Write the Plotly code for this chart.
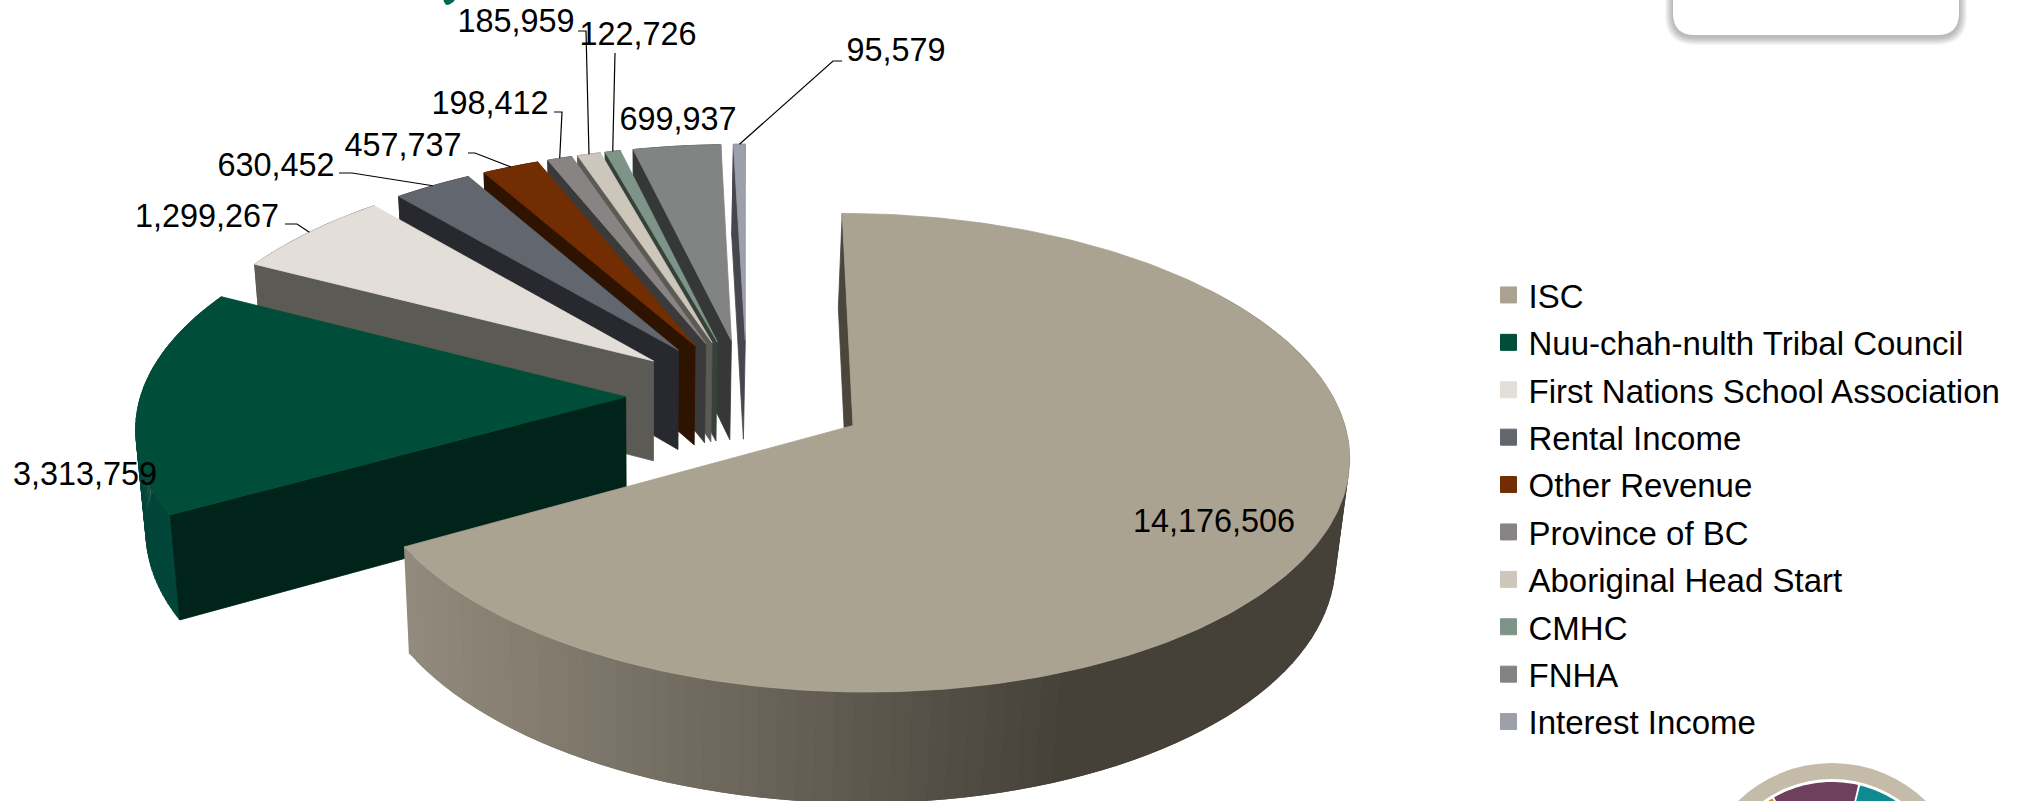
import math
import plotly.graph_objects as go

# Revenue by source, in table order
categories = ["ISC", "Nuu-chah-nulth Tribal Council", "First Nations School Association",
              "Rental Income", "Other Revenue", "Province of BC", "Aboriginal Head Start",
              "CMHC", "FNHA", "Interest Income"]
values = [14176506, 3313759, 1299267, 630452, 457737, 198412, 185959, 122726, 699937, 95579]
top_colors = ["#aaa391", "#004d3a", "#e3dfd8", "#62666f", "#722d03",
              "#888483", "#ccc7ba", "#7e9489", "#828484", "#9d9fab"]
wall_colors = ["#4a463c", "#00231a", "#5c5a54", "#28282f", "#2e1300",
               "#3b3a3a", "#5c5a54", "#36413c", "#363838", "#46474e"]
rim_colors = [None, "#02463a", "#5c5a54", "#28282f", "#2e1300",
              "#3b3a3a", "#5c5a54", "#36413c", "#363838", "#46474e"]

# Where each value label sits, and the elbow of its leader line (None = no leader)
label_xy = [(1214, 524), (85, 477), (207, 219), (276, 168), (403, 148),
            (490, 106), (516, 24), (638, 37), (678, 122), (896, 53)]
elbows = [None, None, [(285, 224), (297, 224)], [(339, 173), (352, 173)],
          [(468, 153), (475, 153)], [(554, 112), (562, 112)], [(578, 31), (586, 31)],
          [(615, 53)], None, [(842, 61), (833, 61)]]

# Camera for the tilted pie
CX, CY, AX, BY, PERSP, VX = 747, 396, 485, 229.6, 0.112, 650
EXPLODE, DEPTH = 0.25, 101
FONT = "Liberation Sans"


def project(x, y, z=0):
    w = 1 + PERSP * y
    sx = CX + AX * x / w
    sy = CY - BY * y / w
    if z:
        sx = VX + (sx - VX) * (1 - 0.02 * z)
        sy += z * DEPTH / (1 + 0.08 * y)
    return sx, sy


def polar(deg, ox, oy, r=1.0):
    t = math.radians(deg)
    return ox + r * math.sin(t), oy + r * math.cos(t)


def arc_angles(a0, a1, step=1.0):
    n = max(2, int(math.ceil((a1 - a0) / step)))
    return [a0 + (a1 - a0) * i / n for i in range(n + 1)]


def closed(points):
    return [p[0] for p in points] + [points[0][0]], [p[1] for p in points] + [points[0][1]]


def patch(points, color, name, edge=0.8):
    xs, ys = closed(points)
    return go.Scatter(x=xs, y=ys, mode="lines", fill="toself", fillcolor=color,
                      line=dict(color=color, width=edge), hoverinfo="skip",
                      showlegend=False, name=name)


def strip(ox, oy, u, v):
    # One vertical facet of a slice's curved side
    pu, pv = polar(u, ox, oy), polar(v, ox, oy)
    return [project(*pu), project(*pv), project(*pv, 1), project(*pu, 1)]


total = sum(values)
spans = []
acc = 0.0
for v in values:
    spans.append((acc, acc + 360.0 * v / total))
    acc += 360.0 * v / total


def rim_shade(sx):
    # Side of the largest slice darkens from left to right, then stays flat
    t = min(1.0, max(0.0, (sx - 404) / 656))
    lo, hi = (146, 138, 124), (69, 65, 57)
    return "rgb(%d,%d,%d)" % tuple(round(lo[i] + (hi[i] - lo[i]) * t) for i in range(3))


fig = go.Figure()
arc_mids = {}

# Back slices are painted first so the nearer ones cover them
for i in reversed(range(len(values))):
    a0, a1 = spans[i]
    mid = (a0 + a1) / 2
    ox, oy = polar(mid, 0, 0, EXPLODE)
    arc_mids[i] = project(*polar(mid, ox, oy))
    angles = arc_angles(a0, a1)
    if i == 0:
        # Overlapping facets, left to right, so no seams open between the colour bands
        coarse = arc_angles(a0, a1, 2.0)[::-1]
        for k in range(len(coarse) - 2):
            if coarse[k] > 55:
                quad = strip(ox, oy, coarse[k], coarse[k + 2])
                fig.add_trace(patch(quad, rim_shade(quad[0][0]), categories[i], edge=0))
    else:
        # Facets are kept apart: the side folds over at its silhouette
        xs, ys = [], []
        for u, v in zip(angles[:-1], angles[1:]):
            qx, qy = closed(strip(ox, oy, u, v))
            xs += qx + [None]
            ys += qy + [None]
        fig.add_trace(go.Scatter(x=xs, y=ys, mode="lines", fill="toself", fillcolor=rim_colors[i],
                                 line=dict(color=rim_colors[i], width=0.8), hoverinfo="skip",
                                 showlegend=False, name=categories[i]))
    edge = polar(a0, ox, oy)
    wall = [project(ox, oy), project(*edge), project(*edge, 1), project(ox, oy, 1)]
    fig.add_trace(patch(wall, wall_colors[i], categories[i]))
    top = [project(ox, oy)] + [project(*polar(a, ox, oy)) for a in angles]
    fig.add_trace(patch(top, top_colors[i], categories[i]))

# Leader lines run from the label elbow to the middle of the slice's outer edge
for i, elbow in enumerate(elbows):
    if elbow:
        path = elbow + [arc_mids[i]]
        fig.add_trace(go.Scatter(x=[p[0] for p in path], y=[p[1] for p in path], mode="lines",
                                 line=dict(color="#000000", width=1.2), hoverinfo="skip", showlegend=False))

fig.add_trace(go.Scatter(x=[p[0] for p in label_xy], y=[p[1] for p in label_xy], mode="text",
                         text=[f"{v:,}" for v in values], textposition="middle center",
                         textfont=dict(family=FONT, size=32.4, color="#000000"),
                         hoverinfo="skip", showlegend=False))

# Legend entries, one group each so the rows can be spaced apart
for name, color in zip(categories, top_colors):
    fig.add_trace(go.Scatter(x=[None], y=[None], mode="markers", name=name, legendgroup=name,
                             marker=dict(symbol="square", size=16, color=color,
                                         line=dict(color=color, width=1))))

shapes = []
# Rounded panel at the top right with a soft drop shadow
def panel_path(x0, x1, y0, y1, r):
    return (f"M{x0},{y0} L{x0},{y1 - r} Q{x0},{y1} {x0 + r},{y1} L{x1 - r},{y1} "
            f"Q{x1},{y1} {x1},{y1 - r} L{x1},{y0} Z")

for k in range(8, 0, -1):
    shapes.append(dict(type="path", path=panel_path(1673 - k, 1959 + k, -40, 37 + k, 22 + k),
                       fillcolor="rgba(0,0,0,0.035)", line=dict(width=0), xref="x", yref="y"))
shapes.append(dict(type="path", path=panel_path(1673, 1959, -40, 35, 22),
                   fillcolor="#ffffff", line=dict(width=0), xref="x", yref="y"))


# Round emblem at the bottom right, cut by the page edge
def wedge_path(cx, cy, r, a0, a1):
    pts = [(cx + r * math.sin(math.radians(a)), cy - r * math.cos(math.radians(a)))
           for a in arc_angles(a0, a1, 2.0)]
    return f"M{cx},{cy} " + " ".join(f"L{x:.1f},{y:.1f}" for x, y in pts) + " Z"

EMBLEM = (1832, 898)
shapes.append(dict(type="circle", x0=EMBLEM[0] - 135, x1=EMBLEM[0] + 135, y0=EMBLEM[1] - 135, y1=EMBLEM[1] + 135,
                   fillcolor="#c4bca8", line=dict(width=0), xref="x", yref="y"))
shapes.append(dict(type="circle", x0=EMBLEM[0] - 119, x1=EMBLEM[0] + 119, y0=EMBLEM[1] - 119, y1=EMBLEM[1] + 119,
                   fillcolor="#ffffff", line=dict(width=0), xref="x", yref="y"))
for a0, a1, col in [(-30, 13, "#6f3f5e"), (14, 50, "#0e8a90"), (-50, -31, "#c88a1a")]:
    shapes.append(dict(type="path", path=wedge_path(EMBLEM[0], EMBLEM[1], 116, a0, a1),
                       fillcolor=col, line=dict(width=0), xref="x", yref="y"))

# Corner of a dark green mark poking in from the top edge
shapes.append(dict(type="path", path="M443,-2 L456,-2 Q453,4 447,5 Q444,4 443,-2 Z",
                   fillcolor="#006a4e", line=dict(width=0), xref="x", yref="y"))

fig.update_layout(
    width=2018, height=801, autosize=False,
    margin=dict(l=0, r=0, t=0, b=0),
    paper_bgcolor="#ffffff", plot_bgcolor="#ffffff",
    xaxis=dict(range=[0, 2018], visible=False, fixedrange=True),
    yaxis=dict(range=[801, 0], visible=False, fixedrange=True),
    shapes=shapes,
    font=dict(family=FONT, size=32, color="#000000"),
    legend=dict(x=1488.5 / 2018, y=1 - 267 / 801, xanchor="left", yanchor="top",
                bgcolor="rgba(0,0,0,0)", borderwidth=0, tracegroupgap=1.5,
                font=dict(family=FONT, size=33, color="#000000"),
                itemsizing="trace"),
)

fig.write_html("out.html")
